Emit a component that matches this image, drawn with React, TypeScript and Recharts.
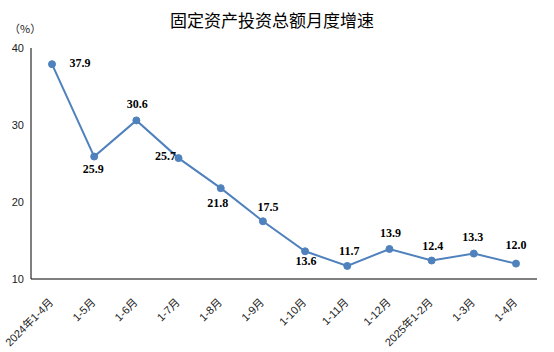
import { LineChart, Line, XAxis, YAxis, LabelList } from "recharts";

const categories = [
  "2024年1-4月",
  "1-5月",
  "1-6月",
  "1-7月",
  "1-8月",
  "1-9月",
  "1-10月",
  "1-11月",
  "1-12月",
  "2025年1-2月",
  "1-3月",
  "1-4月",
];
const growth = [37.9, 25.9, 30.6, 25.7, 21.8, 17.5, 13.6, 11.7, 13.9, 12.4, 13.3, 12.0];
const yTicks = [10, 20, 30, 40];

// where each value label sits relative to its point
const labelOffsets: [number, number][] = [
  [28, -1],
  [-1, 12],
  [1, -16],
  [-13, -2],
  [-3, 15],
  [5, -14],
  [1, 10],
  [2, -15],
  [1, -16],
  [1, -15],
  [-1, -17],
  [0, -19],
];

const data = categories.map((name, i) => ({ name, value: growth[i] }));

const BLUE = "#4F81BD";

const XTick = ({ x, y, payload }: any) => (
  <text
    x={x + 2}
    y={y + 16}
    transform={`rotate(-45 ${x + 2} ${y + 16})`}
    textAnchor="end"
    fontSize={11}
    fontFamily="'Liberation Sans', 'Noto Sans CJK SC', sans-serif"
    fill="#222"
  >
    {payload.value}
  </text>
);

const ValueLabel = ({ x, y, value, index }: any) => {
  const [dx, dy] = labelOffsets[index] ?? [0, -14];
  return (
    <text
      x={x + dx}
      y={y + dy}
      textAnchor="middle"
      dominantBaseline="central"
      fontSize={12}
      fontWeight="bold"
      fontFamily="'Liberation Serif', serif"
      fill="#000"
    >
      {Number(value).toFixed(1)}
    </text>
  );
};

export default function App() {
  return (
    <div style={{ position: "absolute", left: 0, top: 0, width: 554, height: 352, background: "#fff" }}>
      <div
        style={{
          position: "absolute",
          left: 0,
          width: 544,
          top: 8,
          textAlign: "center",
          fontSize: 17,
          fontFamily: "'Noto Sans CJK SC', sans-serif",
          color: "#000",
          lineHeight: "24px",
        }}
      >
        固定资产投资总额月度增速
      </div>
      <div
        style={{
          position: "absolute",
          left: 9,
          top: 20,
          fontSize: 11,
          fontFamily: "'Noto Sans CJK SC', sans-serif",
          color: "#222",
          lineHeight: "16px",
        }}
      >
        （%）
      </div>
      <div
        style={{
          position: "absolute",
          left: 0,
          top: 0,
          width: 554,
          height: 352,
        }}
      >
        <LineChart width={554} height={352} data={data} margin={{ top: 48, right: 17, bottom: 0, left: 0 }}>
          <XAxis
            dataKey="name"
            height={73}
            interval={0}
            padding={{ left: 21, right: 21 }}
            tickLine={false}
            axisLine={{ stroke: "#000" }}
            tick={<XTick />}
          />
          <XAxis
            xAxisId="top"
            orientation="top"
            dataKey="name"
            height={0}
            padding={{ left: 21, right: 21 }}
            tick={false}
            tickLine={false}
            axisLine={{ stroke: "#000" }}
          />
          <YAxis
            domain={[10, 40]}
            ticks={yTicks}
            width={31}
            tickSize={0}
            tickMargin={7}
            tickLine={false}
            axisLine={{ stroke: "#000" }}
            tick={{ fontSize: 11, fill: "#222", fontFamily: "'Liberation Sans', sans-serif" }}
          />
          <YAxis
            yAxisId="right"
            orientation="right"
            domain={[10, 40]}
            width={0}
            tick={false}
            tickLine={false}
            axisLine={{ stroke: "#000" }}
          />
          {/* invisible series that binds the frame axes (top and right edges) */}
          <Line
            xAxisId="top"
            yAxisId="right"
            dataKey="value"
            stroke="none"
            dot={false}
            activeDot={false}
            legendType="none"
            isAnimationActive={false}
          />
          <Line
            type="linear"
            dataKey="value"
            stroke={BLUE}
            strokeWidth={2}
            dot={{ r: 3.5, fill: BLUE, stroke: BLUE, strokeWidth: 1 }}
            isAnimationActive={false}
          >
            <LabelList dataKey="value" content={<ValueLabel />} />
          </Line>
        </LineChart>
      </div>
    </div>
  );
}
